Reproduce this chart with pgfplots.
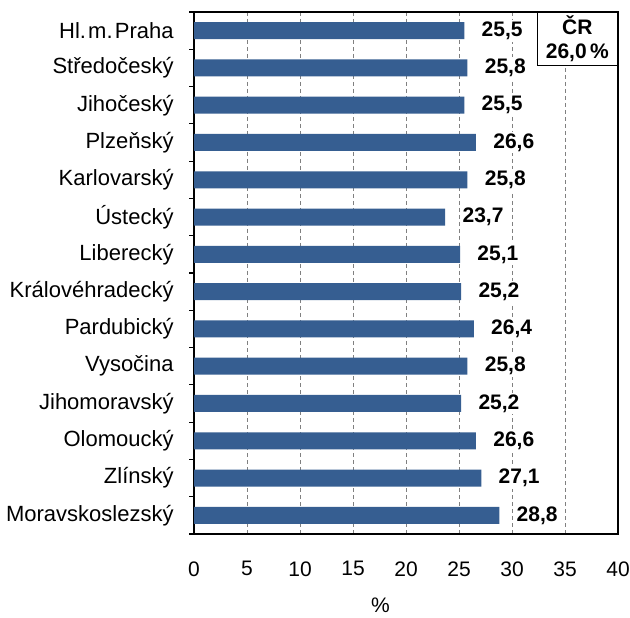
\documentclass[border=0pt]{standalone}
\usepackage{pgfplots}
\pgfplotsset{compat=1.18}
\usepackage{fontspec}
\setmainfont{Liberation Sans}
\definecolor{barblue}{RGB}{54,94,145}
\begin{document}
\fontsize{10.5}{12}\selectfont
\begin{tikzpicture}
\begin{axis}[
  scale only axis, width=212pt, height=261pt,
  xbar, bar width=8.5pt, bar shift=0pt,
  xmin=0, xmax=40, ymin=-0.5, ymax=13.5, y dir=reverse,
  xtick={0,5,...,40},
  ytick={0,...,13},
  yticklabels={Hl.\hspace{0.1em}m.\hspace{0.1em}Praha, Středočeský, Jihočeský, Plzeňský, Karlovarský, Ústecký, Liberecký, Královéhradecký, Pardubický, Vysočina, Jihomoravský, Olomoucký, Zlínský, Moravskoslezský},
  minor ytick={-0.5,0.5,...,13.5},
  major tick length=0pt, minor tick length=2.5pt,
  tick align=outside,
  xtick pos=bottom, ytick pos=left,
  xmajorgrids, grid style={dash pattern=on 2pt off 1.5pt, gray, line width=0.5pt},
  axis line style={line width=0.8pt},
  tick style={black, line width=0.6pt},
  /pgf/number format/assume math mode=true,
  xticklabel style={yshift=-10pt, font=\fontsize{10.5}{12}\selectfont},
  yticklabel style={xshift=-6.5pt, font=\fontsize{11}{13}\selectfont},
  xlabel={\%},
  xlabel style={at={(axis description cs:0.44,0)}, anchor=center, yshift=-35.5pt, inner sep=0pt, font=\fontsize{10.5}{12}\selectfont},
  point meta=x,
  nodes near coords={\pgfmathprintnumber[use comma, fixed, fixed zerofill, precision=1]{\pgfplotspointmeta}},
  every node near coord/.append style={anchor=west, xshift=7.5pt, fill=white, inner sep=1pt, font=\bfseries\fontsize{10.5}{12}\selectfont, text=black},
]
\addplot[fill=barblue, draw=none] coordinates {
(25.5,0) (25.8,1) (25.5,2) (26.6,3) (25.8,4) (23.7,5) (25.1,6)
(25.2,7) (26.4,8) (25.8,9) (25.2,10) (26.6,11) (27.1,12) (28.8,13)};
\node[draw, fill=white, line width=0.6pt, anchor=north east, align=center, minimum width=40pt, minimum height=26.5pt, inner sep=1pt, font=\bfseries\fontsize{10.5}{12}\selectfont] at (axis description cs:1,1) {ČR\\26,0\,\%};
\end{axis}
\pgfresetboundingbox
\path ([xshift=-97pt,yshift=-42pt]current axis.south west) rectangle ([xshift=6pt,yshift=6pt]current axis.north east);
\end{tikzpicture}
\end{document}
